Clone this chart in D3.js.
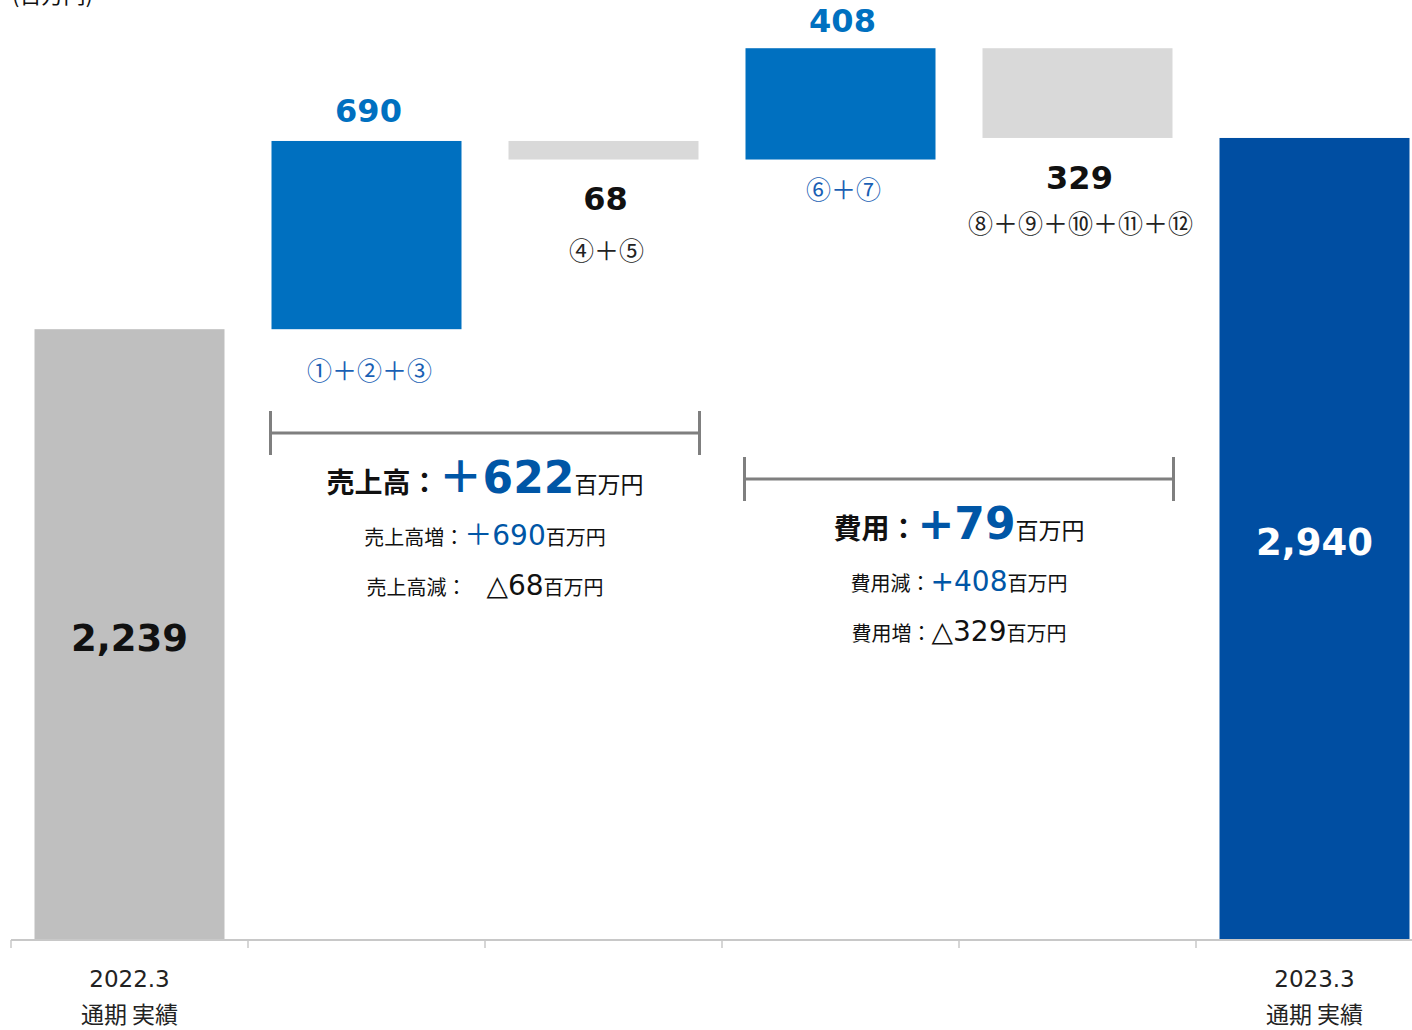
<!DOCTYPE html>
<html>
<head>
<meta charset="utf-8">
<script src="https://cdn.jsdelivr.net/npm/d3@7"></script>
<style>
  html, body { margin: 0; padding: 0; background: #fff; }
  svg { display: block; }
</style>
</head>
<body>
<div id="main-frame"></div>
<script>
// chart data
var categories = ["2022.3", "売上高増", "売上高減", "費用減", "費用増", "2023.3"];
var subLabels = ["通期 実績", "", "", "", "", "通期 実績"];
var values = [2239, 690, -68, 408, -329, 2940];
var kinds = ["total", "up", "down", "up", "down", "total"];
var valueLabels = ["2,239", "690", "68", "408", "329", "2,940"];
var noteLabels = ["", "①＋②＋③", "④＋⑤", "⑥＋⑦", "⑧＋⑨＋⑩＋⑪＋⑫", ""];

// bracket summaries: [first category, last category]
var summaryRanges = [["売上高増", "売上高減"], ["費用減", "費用増"]];
var summaryTitles = ["売上高：", "費用："];
var summaryTotals = ["＋622", "+79"];
var summaryLines = [
  [["売上高増：", "＋690", "blue"], ["売上高減：　", "△68", "black"]],
  [["費用減：", "+408", "blue"], ["費用増：", "△329", "black"]]
];

var width = 1412;
var height = 1030;
var baseY = 940;

var jp = "'Noto Sans CJK JP', sans-serif";
var num = "'DejaVu Sans', 'Noto Sans CJK JP', sans-serif";

var colors = {
  total0: "#bfbfbf",
  total1: "#004ea2",
  up: "#0070c0",
  down: "#d9d9d9",
  textBlue: "#0056a6",
  bracket: "#7f7f7f",
  axis: "#c8c8c8"
};

// label nudges per bar (layout only)
var valueOffset = [16, -19, 50, -16, 51, 16];
var noteOffset = [0, 51, 100, 39, 95, 0];

var svg = d3.select("#main-frame")
  .append("svg")
  .attr("width", width)
  .attr("height", height);

var pad = 47 / 237;
var x = d3.scaleBand()
  .domain(categories)
  .range([11, 11 + 237 * 6])
  .paddingInner(pad)
  .paddingOuter(pad / 2);

var y = d3.scaleLinear()
  .domain([0, 3400])
  .range([baseY, baseY - 3400 * 0.2728]);

// waterfall steps
var bars = [];
var running = 0;
for (var i = 0; i < categories.length; i++) {
  var start, end;
  if (kinds[i] === "total") {
    start = 0;
    end = values[i];
    running = values[i];
  } else {
    start = running;
    end = running + values[i];
    running = end;
  }
  bars.push({
    cat: categories[i], kind: kinds[i], idx: i,
    lo: Math.min(start, end), hi: Math.max(start, end)
  });
}

function barColor(d) {
  if (d.kind === "total") return d.idx === 0 ? colors.total0 : colors.total1;
  return d.kind === "up" ? colors.up : colors.down;
}

svg.selectAll("rect.bar")
  .data(bars)
  .enter().append("rect")
  .attr("class", "bar")
  .attr("x", function(d) { return x(d.cat); })
  .attr("width", x.bandwidth())
  .attr("y", function(d) { return y(d.hi); })
  .attr("height", function(d) { return y(d.lo) - y(d.hi); })
  .attr("fill", barColor);

// axis line + boundary ticks
var gap = x.step() * pad / 2;
svg.append("line")
  .attr("x1", x.range()[0]).attr("x2", x.range()[1])
  .attr("y1", baseY).attr("y2", baseY)
  .style("stroke", colors.axis)
  .style("stroke-width", 2);

svg.selectAll("line.tick")
  .data(categories)
  .enter().append("line")
  .attr("class", "tick")
  .attr("x1", function(d) { return x(d) - gap; })
  .attr("x2", function(d) { return x(d) - gap; })
  .attr("y1", baseY).attr("y2", baseY + 8)
  .style("stroke", colors.axis)
  .style("stroke-width", 1.5);

// category labels (only the totals carry text)
categories.forEach(function(c, i) {
  if (kinds[i] !== "total") return;
  var cx = x(c) + x.bandwidth() / 2;
  svg.append("text")
    .attr("x", cx).attr("y", 987)
    .attr("text-anchor", "middle")
    .style("font-family", num).style("font-size", "23px")
    .style("fill", "#222")
    .text(c);
  svg.append("text")
    .attr("x", cx).attr("y", 1023)
    .attr("text-anchor", "middle")
    .style("font-family", jp).style("font-size", "23px")
    .style("fill", "#222")
    .text(subLabels[i]);
});

// value labels
bars.forEach(function(d) {
  var cx = x(d.cat) + x.bandwidth() / 2;
  var top = y(d.hi), bottom = y(d.lo);
  var t = svg.append("text")
    .attr("x", d.kind === "total" ? cx : cx + 2)
    .attr("text-anchor", "middle")
    .style("font-family", num)
    .style("font-weight", "bold")
    .text(valueLabels[d.idx]);

  if (d.kind === "total") {
    t.attr("y", (top + bottom) / 2 + valueOffset[d.idx])
      .style("font-size", "37px")
      .style("fill", d.idx === 0 ? "#111" : "#fff");
  } else if (d.kind === "up") {
    t.attr("y", top + valueOffset[d.idx])
      .style("font-size", "32px")
      .style("fill", colors.up);
  } else {
    t.attr("y", bottom + valueOffset[d.idx])
      .style("font-size", "32px")
      .style("fill", "#111");
  }

  if (noteLabels[d.idx]) {
    svg.append("text")
      .attr("x", cx + 3)
      .attr("y", bottom + noteOffset[d.idx])
      .attr("text-anchor", "middle")
      .style("font-family", jp)
      .style("font-size", "25px")
      .style("fill", d.kind === "up" ? "#1a5fb4" : "#222")
      .text(noteLabels[d.idx]);
  }
});

// brackets with summaries
var bracketY = [433, 479];
summaryRanges.forEach(function(r, k) {
  var x0 = x(r[0]) - 1;
  var x1 = x(r[1]) + x.bandwidth() + 1;
  var by = bracketY[k];
  var g = svg.append("g")
    .style("stroke", colors.bracket)
    .style("stroke-width", 3);
  g.append("line").attr("x1", x0).attr("x2", x1).attr("y1", by).attr("y2", by);
  g.append("line").attr("x1", x0).attr("x2", x0).attr("y1", by - 22).attr("y2", by + 22);
  g.append("line").attr("x1", x1).attr("x2", x1).attr("y1", by - 22).attr("y2", by + 22);

  var cx = (x0 + x1) / 2;
  var main = svg.append("text")
    .attr("x", cx).attr("y", by + 60)
    .attr("text-anchor", "middle");
  main.append("tspan")
    .style("font-family", jp).style("font-weight", "bold")
    .style("font-size", "28px").style("fill", "#111")
    .text(summaryTitles[k]);
  main.append("tspan")
    .style("font-family", num).style("font-weight", "bold")
    .style("font-size", "44px").style("fill", colors.textBlue)
    .text(summaryTotals[k]);
  main.append("tspan")
    .style("font-family", jp)
    .style("font-size", "23px").style("fill", "#111")
    .text("百万円");

  summaryLines[k].forEach(function(line, j) {
    var t = svg.append("text")
      .attr("x", cx).attr("y", by + 112 + j * 50)
      .attr("text-anchor", "middle");
    t.append("tspan")
      .style("font-family", jp)
      .style("font-size", "20px").style("fill", "#111")
      .text(line[0]);
    t.append("tspan")
      .style("font-family", num)
      .style("font-size", "28px")
      .style("fill", line[2] === "blue" ? colors.textBlue : "#111")
      .text(line[1]);
    t.append("tspan")
      .style("font-family", jp)
      .style("font-size", "20px").style("fill", "#111")
      .text("百万円");
  });
});

// unit label, cut off at the top edge as in the source slide
svg.append("text")
  .attr("x", 12).attr("y", 3)
  .style("font-family", jp)
  .style("font-size", "22px")
  .style("fill", "#111")
  .text("(百万円)");
</script>
</body>
</html>
